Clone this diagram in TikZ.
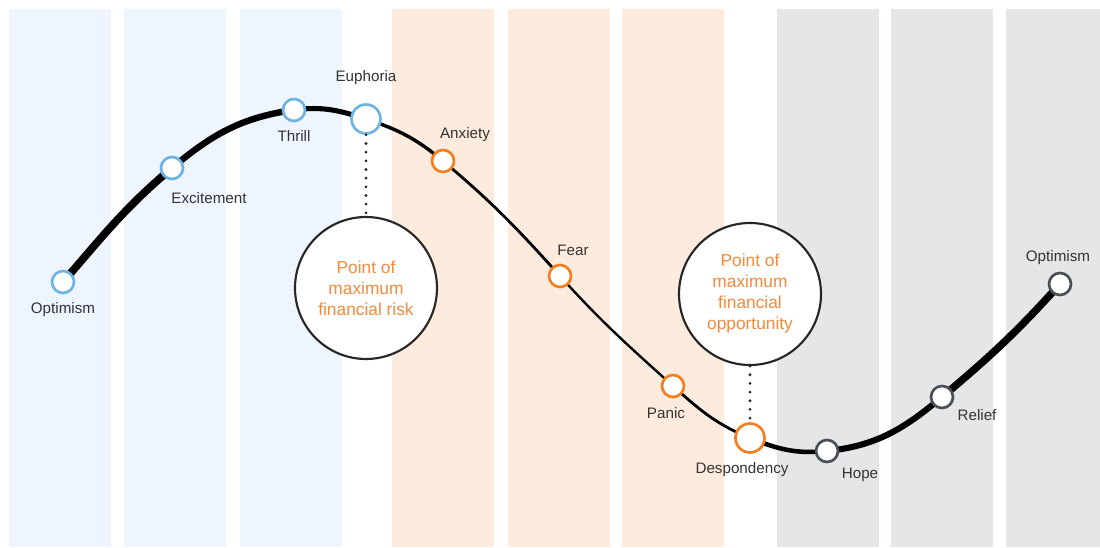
\documentclass[tikz,border=0pt]{standalone}
\usepackage{fontspec}
\setmainfont{Liberation Sans}
\definecolor{bandblue}{HTML}{EFF5FE}
\definecolor{bandorange}{HTML}{FDECDD}
\definecolor{bandgray}{HTML}{E5E6E8}
\definecolor{ringblue}{HTML}{6CB4E4}
\definecolor{ringorange}{HTML}{F47F20}
\definecolor{ringgray}{HTML}{4B5057}
\definecolor{labelgray}{HTML}{333333}
\definecolor{calloutorange}{HTML}{F58A3C}
\pgfdeclarelayer{bands}
\pgfdeclarelayer{curve}
\pgfsetlayers{bands,curve,main}
\begin{document}
\begin{tikzpicture}[x=0.75pt,y=0.75pt,
  stage/.style={circle,fill=white,line width=2pt,minimum size=16.5pt,inner sep=0pt},
  bigstage/.style={stage,minimum size=21.75pt},
  blue/.style={draw=ringblue},
  orange/.style={draw=ringorange},
  grey/.style={draw=ringgray},
  lbl/.style={font=\fontsize{11.4pt}{13pt}\selectfont,text=labelgray,inner sep=0pt},
  callout/.style={circle,draw=black!85,line width=1.6pt,fill=white,minimum size=106.5pt,
    inner sep=0pt,align=center,text=calloutorange,font=\fontsize{13pt}{15.75pt}\selectfont},
  leader/.style={draw=black!85,line width=2.3pt,line cap=round,dash pattern=on 0pt off 6.5pt},
  trend/.style={line cap=round}]
\useasboundingbox (0,0) rectangle (1100,547);

% background bands for the three phases
\begin{pgfonlayer}{bands}
  \fill[white] (0,0) rectangle (1100,547);
  \foreach \a in {9,124,240}   {\fill[bandblue]   (\a,0) rectangle ++(102,537.5);}
  \foreach \a in {392,508,622} {\fill[bandorange] (\a,0) rectangle ++(102,537.5);}
  \foreach \a in {777,891}     {\fill[bandgray]   (\a,0) rectangle ++(102,537.5);}
  \fill[bandgray] (1006,0) rectangle (1100,537.5);
\end{pgfonlayer}

% stages of the cycle
\node[stage,blue]       (o1) at (63,265)  {};
\node[stage,blue]       (ex) at (172,379) {};
\node[stage,blue]       (th) at (294,437) {};
\node[bigstage,blue]    (eu) at (366,428) {};
\node[stage,orange]     (an) at (443,386) {};
\node[stage,orange]     (fe) at (560,271) {};
\node[stage,orange]     (pa) at (673,161) {};
\node[bigstage,orange]  (de) at (750,109) {};
\node[stage,grey]       (ho) at (827,96)  {};
\node[stage,grey]       (re) at (942,150) {};
\node[stage,grey]       (o2) at (1060,263) {};

% stage names
\node[lbl] (o1t) at (63,237)  {Optimism};
\node[lbl] (ext) at (209,349) {Excitement};
\node[lbl] (tht) at (294,411) {Thrill};
\node[lbl] (eut) at (366,469) {Euphoria};
\node[lbl] (ant) at (465,412) {Anxiety};
\node[lbl] (fet) at (573,297) {Fear};
\node[lbl] (pat) at (666,134) {Panic};
\node[lbl] (det) at (742,77)  {Despondency};
\node[lbl] (hot) at (860,72)  {Hope};
\node[lbl] (ret) at (977,132) {Relief};
\node[lbl] (o2t) at (1058,289) {Optimism};

% callouts
\node[callout] (risk) at (366,259) {Point of\\maximum\\financial risk};
\node[callout] (opp)  at (750,253) {Point of\\maximum\\financial\\opportunity};
\draw[leader] (eu.south) -- (risk.north);
\draw[leader] (opp.south) -- (de.north);

% the cycle curve, thick in the calm phases and thin through the fall
\begin{pgfonlayer}{curve}
  \draw[trend,line width=5.8pt] (o1.center) to[out=49,in=-140] (ex.center);
  \draw[trend,line width=4.8pt] (ex.center) to[out=40,in=-172] (th.center);
  \draw[trend,line width=3.8pt] (th.center) to[out=8,in=162] (eu.center);
  \draw[trend,line width=2.6pt] (eu.center) to[out=-18,in=140] (an.center);
  \draw[trend,line width=2.1pt] (an.center) to[out=-40,in=132] (fe.center);
  \draw[trend,line width=1.8pt] (fe.center) to[out=-48,in=138] (pa.center);
  \draw[trend,line width=2.1pt] (pa.center) to[out=-42,in=158] (de.center);
  \draw[trend,line width=3.4pt] (de.center) to[out=-22,in=-174] (ho.center);
  \draw[trend,line width=4.6pt] (ho.center) to[out=6,in=-140] (re.center);
  \draw[trend,line width=5.6pt] (re.center) to[out=40,in=-132] (o2.center);
\end{pgfonlayer}
\end{tikzpicture}
\end{document}
